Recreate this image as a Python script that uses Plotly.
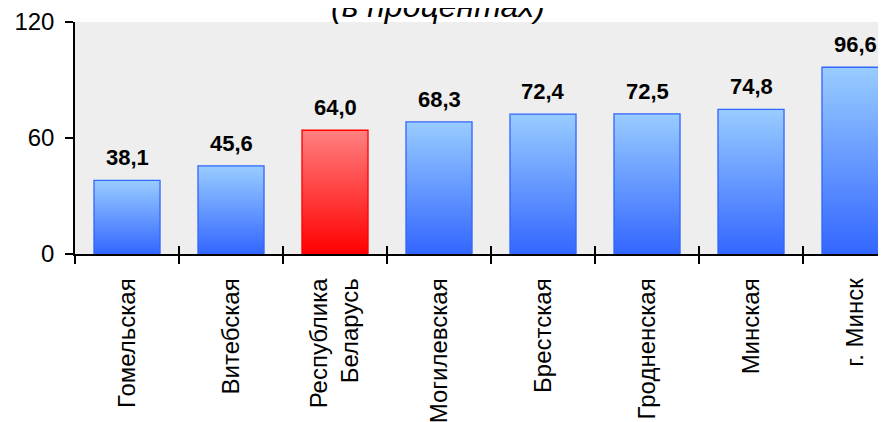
import plotly.graph_objects as go

categories = ["Гомельская", "Витебская", "Республика<br>Беларусь", "Могилевская",
              "Брестская", "Гродненская", "Минская", "г. Минск"]
values = [38.1, 45.6, 64.0, 68.3, 72.4, 72.5, 74.8, 96.6]
labels = ["38,1", "45,6", "64,0", "68,3", "72,4", "72,5", "74,8", "96,6"]
highlight = "Республика<br>Беларусь"
y_ticks = [0, 60, 120]
title_text = "(в процентах)"

BAR_W = 0.635
BLUE_TOP, BLUE_BOT, BLUE_LINE = "#99ccff", "#3366ff", "#3366ff"
RED_TOP, RED_BOT, RED_LINE = "#ff8080", "#ff0000", "#ff0000"
FONT = "Arial, Liberation Sans, sans-serif"

fig = go.Figure()

# transparent bar trace carries the categorical data
fig.add_trace(go.Bar(
    x=categories, y=values, width=BAR_W,
    marker=dict(color="rgba(0,0,0,0)", line=dict(width=0)),
    hoverinfo="skip", showlegend=False,
))

# gradient fills for each bar, placed via the axis scale
for i, (c, v) in enumerate(zip(categories, values)):
    red = c == highlight
    top, bot, line = (RED_TOP, RED_BOT, RED_LINE) if red else (BLUE_TOP, BLUE_BOT, BLUE_LINE)
    x0, x1 = i - BAR_W / 2, i + BAR_W / 2
    fig.add_trace(go.Scatter(
        x=[x0, x0, x1, x1, x0], y=[0, v, v, 0, 0],
        xaxis="x2", mode="lines", fill="toself",
        fillgradient=dict(type="vertical", start=0, stop=v,
                          colorscale=[[0, bot], [1, top]]),
        line=dict(color=line, width=1.3),
        hoverinfo="skip", showlegend=False,
    ))
    fig.add_annotation(x=c, y=v, text="<b>%s</b>" % labels[i], showarrow=False,
                       yanchor="bottom", yshift=8,
                       font=dict(family=FONT, size=22, color="black"))

n = len(categories)
xr = [-0.5, 7.298]
boundaries = [i - 0.5 for i in range(n + 1)]
fig.update_layout(
    width=878, height=414,
    margin=dict(l=67, r=0, t=14, b=168, autoexpand=False),
    paper_bgcolor="white", plot_bgcolor="#eeeeee",
    font=dict(family=FONT, color="black"),
    xaxis=dict(type="category", categoryarray=categories, range=xr,
               tickson="boundaries", ticks="outside", ticklen=8, tickwidth=1.5,
               tickcolor="black", showline=True, linecolor="black", linewidth=1.5,
               showgrid=False, tickangle=-90, tickfont=dict(size=24, family=FONT),
               ticklabelstandoff=13, automargin=False),
    xaxis2=dict(overlaying="x", range=xr, anchor="y", side="bottom",
                tickvals=boundaries, ticks="inside", ticklen=8, tickwidth=1.5,
                tickcolor="black", showticklabels=False, showline=False,
                showgrid=False, zeroline=False, automargin=False),
    yaxis=dict(range=[0, 120], tickvals=y_ticks, ticks="outside", ticklen=8,
               tickwidth=1.5, tickcolor="black", showline=True, linecolor="black",
               linewidth=1.5, showgrid=False, zeroline=False,
               tickfont=dict(size=24, family=FONT), ticklabelstandoff=6,
               automargin=False),
    yaxis2=dict(overlaying="y", range=[0, 120], anchor="x", side="left",
                tickvals=y_ticks, ticks="inside", ticklen=8, tickwidth=1.5,
                tickcolor="black", showticklabels=False, showline=False,
                showgrid=False, zeroline=False, automargin=False),
    bargap=0.365,
)

fig.add_annotation(text=title_text, xref="paper", yref="paper",
                   x=(438 - 75) / 811, y=1 - 4 / 232, yanchor="bottom",
                   showarrow=False,
                   font=dict(family=FONT, size=32, color="black", style="italic"))

fig.write_html("out.html")
